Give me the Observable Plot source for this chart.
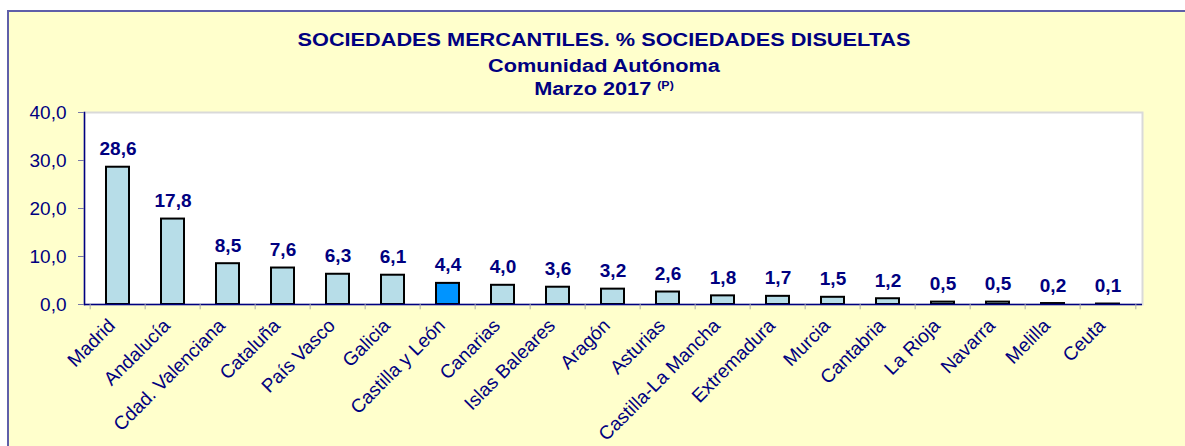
<!DOCTYPE html>
<html>
<head>
<meta charset="utf-8">
<script src="https://cdn.jsdelivr.net/npm/d3@7"></script>
<script src="https://cdn.jsdelivr.net/npm/@observablehq/plot@0.6"></script>
<style>
  html, body { margin: 0; padding: 0; overflow: hidden; background: #ffffff; width: 1185px; height: 446px; }
  #page { position: relative; width: 1185px; height: 446px; font-family: Arial, "Liberation Sans", sans-serif; }
  #frame { position: absolute; left: 7px; top: 10px; width: 1220px; height: 500px; background: #FFFFCC; border: 2px solid #5f5fa9; }
  .tl { position: absolute; left: 0; width: 1208px; text-align: center; color: #000080; font-weight: bold; font-size: 17.5px; line-height: 17px; white-space: nowrap; transform-origin: 604px 0; transform: scaleX(1.24); }
  .tl sup { font-size: 10px; vertical-align: 6px; line-height: 0; }
  #chart { position: absolute; left: 0; top: 100px; }
</style>
</head>
<body>
<div id="page">
  <div id="frame"></div>
  <div class="tl" style="top:32px">SOCIEDADES MERCANTILES. % SOCIEDADES DISUELTAS</div>
  <div class="tl" style="top:57.5px">Comunidad Autónoma</div>
  <div class="tl" style="top:80.5px">Marzo 2017 <sup>(P)</sup></div>
  <div id="chart"></div>
</div>
<script>
const categories = ["Madrid", "Andalucía", "Cdad. Valenciana", "Cataluña", "País Vasco", "Galicia", "Castilla y León", "Canarias", "Islas Baleares", "Aragón", "Asturias", "Castilla-La Mancha", "Extremadura", "Murcia", "Cantabria", "La Rioja", "Navarra", "Melilla", "Ceuta"];
const values = [28.6, 17.8, 8.5, 7.6, 6.3, 6.1, 4.4, 4.0, 3.6, 3.2, 2.6, 1.8, 1.7, 1.5, 1.2, 0.5, 0.5, 0.2, 0.1];
const highlight = "Castilla y León";
const yTicks = [0, 10, 20, 30, 40];

const navy = "#000080";
const fmt = v => v.toFixed(1).replace(".", ",");
const data = categories.map((c, i) => ({region: c, value: values[i]}));

const W = 1185, H = 346, ml = 84, mr = 43, mt = 12, mb = 142;
const step = (W - ml - mr) / categories.length;

const chart = Plot.plot({
  width: W,
  height: H,
  marginTop: mt,
  marginLeft: ml,
  marginRight: mr,
  marginBottom: mb,
  style: {background: "transparent", fontFamily: "Arial, 'Liberation Sans', sans-serif", color: navy, overflow: "visible"},
  x: {domain: categories, paddingInner: 0.58, paddingOuter: 0.29, axis: null, label: null},
  y: {domain: [0, 40], axis: null, label: null},
  marks: [
    Plot.frame({fill: "white", stroke: "#d9d9d9", strokeWidth: 2}),
    Plot.barY(data, {x: "region", y: "value", fill: d => d.region === highlight ? "#0094ff" : "#b7dde8", stroke: "black", strokeWidth: 2}),
    Plot.ruleY([0], {stroke: navy, strokeWidth: 1.5}),
    Plot.frame({anchor: "left", stroke: navy, strokeWidth: 1.5}),
    Plot.axisY({ticks: yTicks, tickFormat: fmt, tickSize: 6, tickPadding: 12, fontSize: 19, stroke: "#7777aa", fill: navy, label: null}),
    Plot.ruleX(categories, {x: d => d, dx: -step / 2, y1: 0, y2: -1.1, stroke: "#aaaaaa"}),
    Plot.ruleX(categories.slice(-1), {x: d => d, dx: step / 2, y1: 0, y2: -1.1, stroke: "#aaaaaa"}),
    Plot.axisX({tickSize: 0, tickRotate: -45, tickPadding: 12, dx: -6, dy: 6, fontSize: 19, fill: navy, label: null}),
    Plot.text(data, {x: "region", y: "value", text: d => fmt(d.value), dy: -12, lineAnchor: "bottom", fontWeight: "bold", fontSize: 19, fill: navy})
  ]
});
d3.select(chart).selectAll("g[aria-label='x-axis tick label']").attr("font-size", 19).style("font-size", "19px");
d3.select(chart).selectAll("g[aria-label='y-axis tick label']").attr("font-size", 19).style("font-size", "19px");
document.getElementById("chart").appendChild(chart);
</script>
</body>
</html>
